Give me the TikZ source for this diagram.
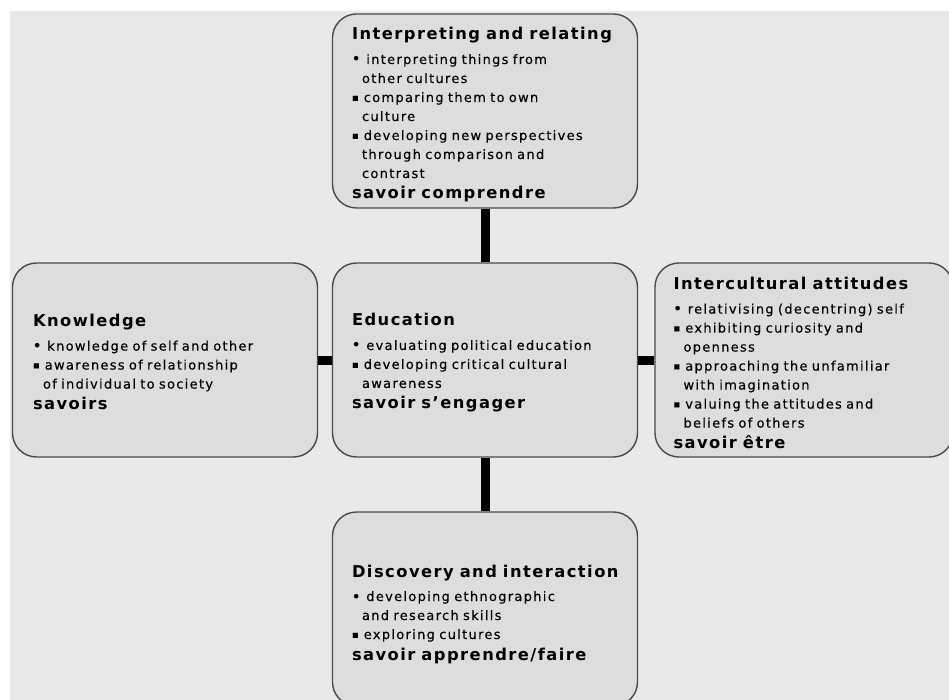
\documentclass[tikz,border=0pt]{standalone}
\usepackage{fontspec}
\setmainfont{DejaVu Sans}
\newfontfamily\bodyf[LetterSpace=10,FakeBold=0.3]{DejaVu Sans}
\newfontfamily\titf[LetterSpace=9]{DejaVu Sans Bold}
\definecolor{bgcol}{HTML}{E9E9E9}
\definecolor{boxfill}{HTML}{DDDDDD}
\definecolor{boxline}{HTML}{4A4A4A}
\newlength\tspc \setlength\tspc{6pt}
\newlength\bspc \setlength\bspc{4.8pt}
\newcommand\bodysetup{\bodyf\fontsize{13}{19}\selectfont\spaceskip\bspc\relax}
\newcommand\ttl[1]{{\titf\fontsize{16.3}{19}\selectfont\spaceskip\tspc\relax #1}}
\newcommand\rbul{{\titf •}\hspace{6pt}}
\newcommand\sbul{\raisebox{1pt}{\fontsize{10}{19}\selectfont ▪}\hspace{5pt}}
\newcommand\cont{\hspace*{10pt}}
\begin{document}
\begin{tikzpicture}[x=1pt,y=-1pt,
  box/.style={draw=boxline, line width=1.4pt, fill=boxfill, rounded corners=24pt,
    minimum width=305pt, minimum height=194pt},
  txt/.style={text width=275pt, inner sep=0pt, align=left, font=\bodysetup},
  conn/.style={line width=9pt, black}]
\useasboundingbox (0,0) rectangle (949,700);
\clip (0,0) rectangle (949,700);
\fill[bgcol] (10,11) rectangle (949,700);

\node[box] (top) at (485,111) {};
\node[box] (know) at (165,360) {};
\node[box] (edu) at (485,360) {};
\node[box, minimum width=298pt] (inter) at (804,360) {};
\node[box] (disc) at (485,609) {};

\node[txt, anchor=west] (toptxt) at ([xshift=20pt,yshift=-4pt]top.west) {\ttl{Interpreting and relating}\\[5pt]
\rbul interpreting things from\\
\cont other cultures\\
\sbul comparing them to own\\
\cont culture\\
\sbul developing new perspectives\\
\cont through comparison and\\
\cont contrast\\[2pt]
\ttl{savoir comprendre}};

\node[txt, anchor=west] (knowtxt) at ([xshift=21pt,yshift=-2pt]know.west) {\ttl{Knowledge}\\[5pt]
\rbul knowledge of self and other\\
\sbul awareness of relationship\\
\cont of individual to society\\[2pt]
\ttl{savoirs}};

\node[txt, anchor=west] (edutxt) at ([xshift=20pt,yshift=-3pt]edu.west) {\ttl{Education}\\[5pt]
\rbul evaluating political education\\
\sbul developing critical cultural\\
\cont awareness\\[2pt]
\ttl{savoir s’engager}};

\node[txt, anchor=west] (intertxt) at ([xshift=19pt,yshift=-3pt]inter.west) {\ttl{Intercultural attitudes}\\[5pt]
\rbul relativising (decentring) self\\
\sbul exhibiting curiosity and\\
\cont openness\\
\sbul approaching the unfamiliar\\
\cont with imagination\\
\sbul valuing the attitudes and\\
\cont beliefs of others\\[2pt]
\ttl{savoir être}};

\node[txt, anchor=west] (disctxt) at ([xshift=20pt,yshift=-5pt]disc.west) {\ttl{Discovery and interaction}\\[5pt]
\rbul developing ethnographic\\
\cont and research skills\\
\sbul exploring cultures\\[2pt]
\ttl{savoir apprendre/faire}};

\draw[conn] (top) -- (edu);
\draw[conn] (edu) -- (disc);
\draw[conn] (know) -- (edu);
\draw[conn] (edu) -- (inter);
\end{tikzpicture}
\end{document}
